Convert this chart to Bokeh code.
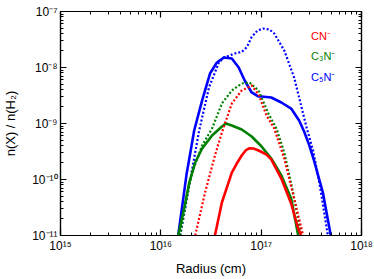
from bokeh.plotting import figure
from bokeh.models import FixedTicker, CustomJSTickFormatter, LogAxis
from bokeh.embed import file_html
from bokeh.resources import INLINE
from bokeh.core.properties import value

# ---- data ----
r_c5n = [1.49e16, 1.8e16, 2.15e16, 2.58e16, 3.09e16, 3.62e16, 4.25e16, 5.10e16, 5.97e16, 6.85e16,
         8.04e16, 9.42e16, 1.01e17, 1.26e17, 1.59e17, 1.99e17, 2.39e17, 2.68e17, 3.0e17,
         3.36e17, 4.12e17, 4.94e17]
n_c5n = [1e-11, 1.2e-10, 7.5e-10, 2.58e-9, 7.81e-9, 1.23e-8, 1.51e-8, 1.45e-8, 1.0e-8, 5.86e-9,
         3.58e-9, 3.03e-9, 3.03e-9, 2.91e-9, 2.37e-9, 1.85e-9, 1.13e-9, 7.2e-10, 4.2e-10,
         2.2e-10, 5.86e-11, 1e-11]

r_c5n_b = [1.56e16, 2.41e16, 3.02e16, 3.79e16, 4.25e16, 4.9e16, 5.46e16, 6.4e16, 7.2e16,
           8.04e16, 9.21e16, 1.05e17, 1.21e17, 1.35e17, 1.70e17, 2.13e17, 2.50e17, 2.80e17,
           3.29e17, 3.77e17, 4.22e17, 4.62e17]
n_c5n_b = [1e-11, 7.5e-10, 4.40e-9, 1.23e-8, 1.51e-8, 1.65e-8, 1.78e-8, 1.9e-8, 2.3e-8,
           3.5e-8, 4.58e-8, 4.97e-8, 4.77e-8, 4.05e-8, 2.01e-8, 6.63e-9, 2.10e-9, 9.21e-10,
           3.30e-10, 9.6e-11, 2.79e-11, 1e-11]

r_c3n = [1.49e16, 1.71e16, 1.92e16, 2.20e16, 2.58e16, 3.24e16, 4.06e16, 4.45e16, 5.10e16,
         6.40e16, 8.04e16, 1.01e17, 1.26e17, 1.59e17, 1.99e17, 2.34e17]
n_c3n = [1e-11, 3.03e-11, 8.84e-11, 2.01e-10, 3.58e-10, 6.10e-10, 8.84e-10, 1.0e-9, 9.21e-10,
         7.81e-10, 5.86e-10, 3.88e-10, 2.37e-10, 1.18e-10, 4.58e-11, 1e-11]

r_c3n_b = [1.56e16, 1.79e16, 2.05e16, 2.58e16, 3.24e16, 4.06e16, 5.10e16, 6.40e16, 7.68e16,
           9.42e16, 1.18e17, 1.42e17, 1.70e17, 2.08e17, 2.50e17]
n_c3n_b = [1e-11, 4.22e-11, 1.33e-10, 4.05e-10, 8.15e-10, 2.28e-9, 3.88e-9, 5.18e-9, 5.39e-9,
           3.88e-9, 1.51e-9, 8.15e-10, 3.03e-10, 5.86e-11, 1e-11]

r_cn = [3.46e16, 4.06e16, 5.10e16, 5.71e16, 6.40e16, 7.0e16, 7.6e16, 8.4e16, 9.4e16, 1.01e17,
        1.13e17, 1.26e17, 1.59e17, 1.99e17, 2.34e17, 2.50e17]
n_cn = [1e-11, 3.88e-11, 1.33e-10, 1.93e-10, 2.68e-10, 3.30e-10, 3.60e-10, 3.58e-10, 3.3e-10,
        3.10e-10, 2.79e-10, 2.28e-10, 1.04e-10, 3.73e-11, 1.33e-11, 1e-11]

r_cn_b = [2.20e16, 2.76e16, 3.46e16, 4.06e16, 5.10e16, 6.40e16, 8.04e16, 9.42e16, 1.13e17,
          1.35e17, 1.70e17, 2.13e17, 2.62e17]
n_cn_b = [1e-11, 5.86e-11, 2.68e-10, 6.91e-10, 2.28e-9, 3.88e-9, 4.77e-9, 3.30e-9, 1.39e-9,
          8.15e-10, 2.37e-10, 4.58e-11, 1e-11]

species = ["CN\u207b", "C\u2083N\u207b", "C\u2085N\u207b"]
label_r = [3.14e17, 3.14e17, 3.14e17]
label_n = [3.65e-8, 1.58e-8, 6.9e-9]

x_decades = [1e15, 1e16, 1e17, 1e18]
y_decades = [1e-11, 1e-10, 1e-9, 1e-8, 1e-7]

RED = "#ff0000"
GREEN = "#008000"
BLUE = "#0000ff"
FONT = "Liberation Sans"

p = figure(width=374, height=279, x_axis_type="log", y_axis_type="log",
           x_range=(1e15, 1e18), y_range=(1e-11, 1e-7),
           output_backend="svg", toolbar_location=None,
           min_border_left=57, min_border_right=13, min_border_top=11, min_border_bottom=44)
p.background_fill_color = "white"
p.border_fill_color = "white"
p.outline_line_color = "black"
p.outline_line_width = 1.2
p.xgrid.visible = False
p.ygrid.visible = False

# lines
kw = dict(line_join="round", line_cap="round")
p.line(r_c5n, n_c5n, line_color=BLUE, line_width=2.6, **kw)
p.line(r_c5n_b, n_c5n_b, line_color=BLUE, line_width=2.2, line_dash="2 2", line_join="round")
p.line(r_c3n, n_c3n, line_color=GREEN, line_width=2.6, **kw)
p.line(r_c3n_b, n_c3n_b, line_color=GREEN, line_width=2.2, line_dash="2 2", line_join="round")
p.line(r_cn, n_cn, line_color=RED, line_width=2.6, **kw)
p.line(r_cn_b, n_cn_b, line_color=RED, line_width=2.2, line_dash="2 2", line_join="round")

p.text(x=label_r, y=label_n, text=species, text_color=[RED, GREEN, BLUE],
       text_font=value(FONT), text_font_size="11px", text_baseline="middle", text_align="left")

sup_code = """
const e = Math.round(Math.log10(tick));
const sup = {'-':'\u207b','0':'\u2070','1':'\u00b9','2':'\u00b2','3':'\u00b3','4':'\u2074',
             '5':'\u2075','6':'\u2076','7':'\u2077','8':'\u2078','9':'\u2079'};
return '10' + String(e).split('').map(c => sup[c]).join('');
"""
blank_code = "return '';"

x_minor = [m * d for d in x_decades[:-1] for m in range(2, 10)]
y_minor = [m * d for d in y_decades[:-1] for m in range(2, 10)]


def style(ax, ticks, minor, labels):
    ax.ticker = FixedTicker(ticks=ticks, minor_ticks=minor)
    ax.formatter = CustomJSTickFormatter(code=sup_code if labels else blank_code)
    ax.axis_line_color = "black"
    ax.axis_line_width = 1.2
    ax.major_tick_in = 6
    ax.major_tick_out = 0
    ax.minor_tick_in = 3
    ax.minor_tick_out = 0
    ax.major_tick_line_color = "black"
    ax.minor_tick_line_color = "black"
    ax.major_tick_line_width = 1.2
    ax.minor_tick_line_width = 1
    ax.major_label_text_font = FONT
    ax.major_label_text_color = "black"
    if labels:
        ax.major_label_text_font_size = "12px"
        ax.major_label_standoff = 3
    else:
        ax.major_label_text_font_size = "0px"
        ax.major_label_standoff = 0


style(p.xaxis[0], x_decades, x_minor, True)
style(p.yaxis[0], y_decades, y_minor, True)
p.xaxis[0].axis_label = "Radius (cm)"
p.yaxis[0].axis_label = "n(X) / n(H\u2082)"
for ax in (p.xaxis[0], p.yaxis[0]):
    ax.axis_label_text_font = FONT
    ax.axis_label_text_font_size = "13px"
    ax.axis_label_text_font_style = "normal"
    ax.axis_label_text_color = "black"
p.xaxis[0].axis_label_standoff = 5
p.yaxis[0].axis_label_standoff = 11

top = LogAxis()
right = LogAxis()
style(top, x_decades, x_minor, False)
style(right, y_decades, y_minor, False)
p.add_layout(top, "above")
p.add_layout(right, "right")

open("out.html", "w").write(file_html(p, INLINE))
